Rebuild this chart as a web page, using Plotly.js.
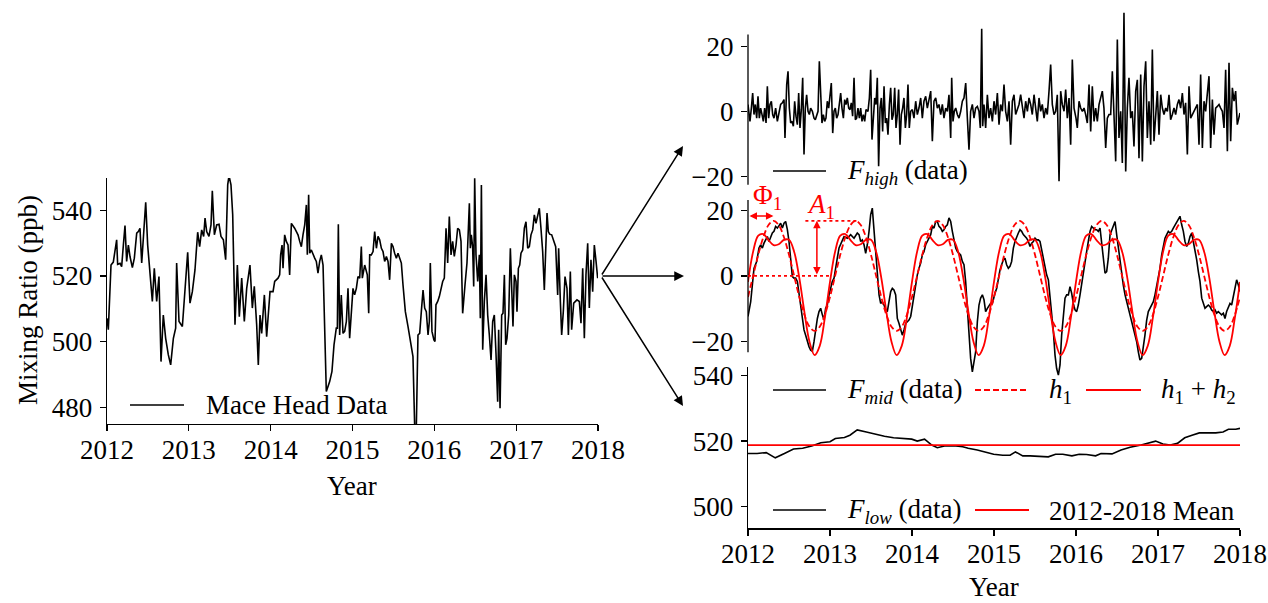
<!DOCTYPE html>
<html>
<head>
<meta charset="utf-8">
<script src="https://cdn.plot.ly/plotly-3.0.1.min.js"></script>
<style>html,body{margin:0;padding:0;background:#fff;}#chart{width:1268px;height:603px;}</style>
</head>
<body>
<div id="chart"></div>
<script>
// ---------------- DATA ----------------
const years = [2012, 2013, 2014, 2015, 2016, 2017, 2018];

// Mace Head record (ppb), [year, value]
const maceHead = [
[2012.000,507.1],[2012.016,503.6],[2012.049,523.3],[2012.077,524.2],[2012.118,531.0],[2012.130,523.5],[2012.159,523.8],[2012.179,522.8],[2012.200,529.4],[2012.220,535.3],[2012.240,524.4],[2012.261,529.4],[2012.281,525.9],[2012.310,522.5],[2012.334,525.4],[2012.363,533.0],[2012.383,533.5],[2012.403,534.5],[2012.424,523.9],[2012.444,532.5],[2012.473,542.4],[2012.497,529.4],[2012.525,520.3],[2012.554,512.2],[2012.578,522.3],[2012.607,512.2],[2012.635,519.8],[2012.660,493.9],[2012.688,508.1],[2012.717,501.0],[2012.749,496.0],[2012.778,492.9],[2012.811,501.0],[2012.839,504.1],[2012.851,523.9],[2012.880,506.1],[2012.921,504.6],[2012.953,515.2],[2012.986,527.2],[2013.014,511.7],[2013.043,515.2],[2013.075,521.8],[2013.108,533.3],[2013.132,528.9],[2013.157,534.0],[2013.181,532.0],[2013.198,537.6],[2013.218,533.5],[2013.246,532.0],[2013.271,535.5],[2013.287,545.9],[2013.312,532.5],[2013.340,535.5],[2013.369,535.7],[2013.393,532.0],[2013.422,531.0],[2013.450,524.9],[2013.475,547.7],[2013.491,550.5],[2013.515,547.7],[2013.536,538.6],[2013.564,505.1],[2013.593,523.3],[2013.617,507.6],[2013.646,519.3],[2013.678,506.1],[2013.707,516.2],[2013.747,523.3],[2013.776,510.2],[2013.800,516.8],[2013.829,505.1],[2013.849,492.9],[2013.870,508.1],[2013.890,502.5],[2013.923,514.2],[2013.951,501.5],[2013.992,515.2],
[2014.029,515.2],[2014.049,518.3],[2014.090,519.3],[2014.110,520.3],[2014.122,526.4],[2014.139,529.4],[2014.151,522.3],[2014.171,532.5],[2014.191,530.5],[2014.212,529.4],[2014.232,520.3],[2014.253,536.0],[2014.293,534.5],[2014.334,532.5],[2014.355,530.5],[2014.375,528.9],[2014.395,532.5],[2014.416,535.5],[2014.436,541.6],[2014.448,526.4],[2014.464,544.7],[2014.477,526.9],[2014.497,527.9],[2014.517,526.4],[2014.538,525.4],[2014.558,524.4],[2014.578,520.8],[2014.599,524.4],[2014.619,526.4],[2014.640,523.3],[2014.660,505.1],[2014.680,484.8],[2014.721,487.8],[2014.749,490.9],[2014.774,499.0],[2014.802,504.1],[2014.815,504.1],[2014.827,535.7],[2014.843,502.0],[2014.863,514.2],[2014.884,502.5],[2014.904,503.1],[2014.925,506.1],[2014.945,516.2],[2014.965,501.0],[2014.986,508.1],[2015.006,516.2],[2015.026,514.2],[2015.047,516.2],[2015.067,519.8],[2015.088,519.3],[2015.108,528.9],[2015.120,519.3],[2015.149,523.3],[2015.181,520.3],[2015.198,508.6],[2015.210,526.4],[2015.230,526.4],[2015.251,527.4],[2015.271,533.5],[2015.292,528.4],[2015.312,532.0],[2015.332,531.0],[2015.353,528.4],[2015.373,527.4],[2015.393,524.4],[2015.414,525.9],[2015.434,524.4],[2015.454,518.8],[2015.475,529.9],[2015.495,528.9],[2015.515,526.9],[2015.536,525.4],[2015.556,526.9],[2015.577,524.9],[2015.597,523.9],[2015.617,517.3],[2015.646,509.1],[2015.678,504.6],[2015.707,500.0],[2015.739,495.4],[2015.760,474.0],[2015.780,474.0],[2015.800,502.0],[2015.821,502.5],[2015.841,509.1],[2015.862,515.7],[2015.882,510.2],[2015.902,509.1],[2015.923,502.0],[2015.939,506.1],[2015.951,523.9],[2015.971,503.1],[2015.995,500.5],
[2016.008,500.0],[2016.020,511.2],[2016.041,512.2],[2016.061,513.7],[2016.081,516.2],[2016.102,518.3],[2016.122,519.3],[2016.143,534.5],[2016.163,523.9],[2016.183,538.1],[2016.204,526.4],[2016.224,530.5],[2016.244,525.9],[2016.265,529.4],[2016.285,534.5],[2016.306,534.0],[2016.326,530.5],[2016.346,508.6],[2016.375,517.3],[2016.399,523.9],[2016.416,534.5],[2016.428,542.1],[2016.440,528.4],[2016.452,532.5],[2016.468,528.9],[2016.481,516.8],[2016.493,549.7],[2016.509,526.4],[2016.530,518.3],[2016.550,526.4],[2016.562,507.1],[2016.575,547.7],[2016.591,497.5],[2016.611,512.2],[2016.632,520.3],[2016.652,508.1],[2016.672,502.0],[2016.693,494.4],[2016.713,506.1],[2016.733,508.1],[2016.754,496.0],[2016.774,481.7],[2016.786,503.6],[2016.803,479.7],[2016.823,508.1],[2016.839,508.6],[2016.856,520.3],[2016.872,499.0],[2016.888,501.0],[2016.909,508.1],[2016.929,528.4],[2016.945,514.2],[2016.961,504.6],[2016.978,520.3],[2016.998,518.3],[2017.010,509.1],[2017.027,522.3],[2017.043,523.3],[2017.059,526.9],[2017.080,527.9],[2017.100,534.5],[2017.120,536.5],[2017.141,528.4],[2017.161,528.9],[2017.181,532.5],[2017.202,534.0],[2017.222,538.6],[2017.242,536.0],[2017.263,538.1],[2017.283,540.6],[2017.303,534.5],[2017.324,527.4],[2017.344,515.7],[2017.365,529.9],[2017.377,539.1],[2017.393,533.5],[2017.409,532.7],[2017.434,532.5],[2017.458,530.5],[2017.483,528.9],[2017.507,514.2],[2017.519,528.4],[2017.540,512.2],[2017.556,502.0],[2017.576,509.1],[2017.597,519.8],[2017.621,516.2],[2017.638,502.0],[2017.662,521.3],[2017.678,503.6],[2017.703,511.7],[2017.719,512.2],[2017.743,512.7],[2017.772,512.2],[2017.792,505.6],[2017.813,522.3],[2017.833,501.0],[2017.853,520.3],[2017.874,529.9],[2017.894,510.2],[2017.914,524.9],[2017.935,515.2],[2017.955,529.4],[2017.976,524.4],[2017.996,519.3]
];

// High-frequency component
const fHigh = [
[2012.000,2.1],[2012.024,-3.1],[2012.041,1.0],[2012.057,5.6],[2012.073,-1.0],[2012.089,2.1],[2012.106,-2.1],[2012.122,4.6],[2012.138,-2.1],[2012.154,1.0],[2012.171,-1.0],[2012.187,-3.1],[2012.203,1.0],[2012.220,-3.6],[2012.236,7.7],[2012.252,-2.1],[2012.268,2.1],[2012.285,3.1],[2012.301,-1.0],[2012.317,-2.1],[2012.337,1.0],[2012.358,-3.1],[2012.378,-0.5],[2012.398,2.1],[2012.419,2.6],[2012.439,3.6],[2012.451,-8.2],[2012.472,8.2],[2012.488,12.3],[2012.504,1.0],[2012.520,-3.6],[2012.537,-3.1],[2012.553,-4.6],[2012.569,3.1],[2012.585,-1.5],[2012.602,-4.1],[2012.618,5.6],[2012.634,-5.1],[2012.650,0.5],[2012.667,10.3],[2012.683,-13.3],[2012.699,1.0],[2012.715,5.1],[2012.732,0.0],[2012.748,-1.0],[2012.764,1.0],[2012.785,0.0],[2012.805,-2.1],[2012.821,-2.6],[2012.837,-1.0],[2012.854,0.0],[2012.870,15.4],[2012.886,2.1],[2012.902,-3.6],[2012.919,-1.0],[2012.935,-3.1],[2012.951,-2.1],[2012.967,3.1],[2012.984,1.0],[2013.000,5.1],[2013.016,8.7],[2013.033,-6.7],[2013.049,0.0],[2013.065,1.0],[2013.081,-2.1],[2013.098,-1.0],[2013.114,2.1],[2013.130,5.6],[2013.146,1.0],[2013.163,-2.1],[2013.179,3.6],[2013.195,2.1],[2013.211,4.1],[2013.228,1.0],[2013.244,0.5],[2013.260,2.6],[2013.276,-1.5],[2013.293,10.3],[2013.309,-2.6],[2013.325,-2.1],[2013.341,1.0],[2013.358,-2.1],[2013.374,1.0],[2013.390,-3.1],[2013.407,-1.0],[2013.423,-3.1],[2013.439,0.5],[2013.463,0.0],[2013.480,4.1],[2013.496,12.8],[2013.512,-8.7],[2013.528,-1.0],[2013.545,4.1],[2013.561,2.1],[2013.577,10.3],[2013.593,-16.9],[2013.610,1.0],[2013.626,4.1],[2013.642,-6.2],[2013.659,7.7],[2013.675,-3.6],[2013.691,-2.1],[2013.707,-7.2],[2013.724,2.1],[2013.740,7.2],[2013.756,-2.6],[2013.772,-1.0],[2013.789,7.2],[2013.805,-5.1],[2013.821,-1.0],[2013.837,6.7],[2013.854,-10.3],[2013.870,-1.0],[2013.886,1.0],[2013.902,4.1],[2013.919,-5.1],[2013.935,-1.0],[2013.951,8.2],[2013.967,-5.1],[2013.984,0.0],[2014.004,0.5],
[2014.024,-2.1],[2014.045,3.1],[2014.065,-1.0],[2014.085,1.0],[2014.106,4.1],[2014.126,-2.1],[2014.146,3.1],[2014.167,4.6],[2014.187,1.0],[2014.207,3.1],[2014.228,6.2],[2014.248,-9.2],[2014.268,3.1],[2014.289,4.1],[2014.309,1.0],[2014.329,2.1],[2014.350,-1.0],[2014.370,2.1],[2014.390,-2.1],[2014.411,1.0],[2014.431,0.0],[2014.451,5.1],[2014.472,-8.2],[2014.484,10.3],[2014.500,-3.1],[2014.516,0.0],[2014.533,1.0],[2014.553,-1.0],[2014.573,-2.1],[2014.594,0.0],[2014.614,3.1],[2014.634,4.1],[2014.655,8.7],[2014.675,-2.1],[2014.695,-11.8],[2014.715,0.0],[2014.736,2.1],[2014.756,-2.1],[2014.776,1.0],[2014.797,1.5],[2014.817,0.0],[2014.833,-5.1],[2014.850,25.4],[2014.862,-4.6],[2014.878,2.1],[2014.898,-5.1],[2014.919,5.1],[2014.939,-2.1],[2014.959,1.0],[2014.980,-3.1],[2015.000,3.1],[2015.020,-1.0],[2015.041,5.6],[2015.061,-4.1],[2015.081,2.1],[2015.102,0.0],[2015.122,8.2],[2015.142,0.0],[2015.163,-3.1],[2015.183,3.1],[2015.203,-10.3],[2015.224,3.1],[2015.244,5.1],[2015.264,-1.0],[2015.285,1.0],[2015.305,2.1],[2015.325,5.1],[2015.346,1.0],[2015.366,-2.1],[2015.386,3.1],[2015.407,0.0],[2015.427,4.1],[2015.447,2.1],[2015.467,-1.0],[2015.488,5.1],[2015.508,1.0],[2015.528,-3.1],[2015.549,4.1],[2015.569,0.0],[2015.589,2.1],[2015.610,-2.1],[2015.630,1.0],[2015.650,-1.0],[2015.671,6.2],[2015.691,14.4],[2015.711,2.1],[2015.732,-1.0],[2015.752,0.0],[2015.772,5.1],[2015.793,-21.5],[2015.813,6.2],[2015.833,2.1],[2015.854,0.0],[2015.874,6.7],[2015.894,-2.1],[2015.915,4.1],[2015.935,-10.3],[2015.955,15.9],[2015.976,1.0],[2016.000,-2.1],
[2016.016,-5.1],[2016.037,3.1],[2016.057,1.0],[2016.078,0.0],[2016.098,1.0],[2016.118,-1.0],[2016.138,-3.6],[2016.159,8.2],[2016.179,-6.2],[2016.199,7.7],[2016.220,-3.1],[2016.240,1.0],[2016.260,-3.1],[2016.281,2.1],[2016.301,4.1],[2016.321,6.2],[2016.341,1.0],[2016.362,-11.3],[2016.382,-2.1],[2016.402,-1.0],[2016.423,-1.0],[2016.443,12.3],[2016.463,-1.0],[2016.484,-15.4],[2016.504,22.1],[2016.524,-8.2],[2016.545,0.0],[2016.565,-15.9],[2016.585,30.3],[2016.606,-18.5],[2016.626,1.0],[2016.646,10.3],[2016.667,-2.1],[2016.687,0.0],[2016.707,-10.8],[2016.728,6.2],[2016.748,9.7],[2016.768,-14.4],[2016.789,11.3],[2016.809,-15.4],[2016.829,7.7],[2016.850,15.4],[2016.870,-8.2],[2016.890,3.1],[2016.911,-10.3],[2016.931,19.0],[2016.951,-9.2],[2016.972,-1.0],[2016.992,6.2],[2017.012,-7.2],[2017.033,5.1],[2017.053,1.0],[2017.073,-1.0],[2017.094,1.0],[2017.114,0.0],[2017.134,5.1],[2017.154,-2.6],[2017.175,-1.0],[2017.195,1.0],[2017.215,-1.0],[2017.236,2.1],[2017.256,3.6],[2017.276,1.0],[2017.297,5.6],[2017.317,-1.0],[2017.337,2.6],[2017.358,-13.3],[2017.378,7.7],[2017.398,-2.1],[2017.419,-1.0],[2017.439,0.0],[2017.459,1.0],[2017.480,2.1],[2017.500,-10.3],[2017.520,11.3],[2017.541,-11.3],[2017.561,3.1],[2017.581,0.0],[2017.602,6.2],[2017.622,10.8],[2017.642,-11.3],[2017.663,3.6],[2017.683,-7.2],[2017.703,1.0],[2017.724,1.5],[2017.744,2.1],[2017.764,1.0],[2017.785,0.0],[2017.805,-5.1],[2017.825,12.8],[2017.846,-12.3],[2017.866,14.9],[2017.886,-9.2],[2017.907,7.2],[2017.927,3.1],[2017.947,6.2],[2017.967,-4.1],[2017.988,-1.0],[2018.000,-0.5]
];

// Mid-frequency (seasonal) component
const fMid = [
[2012.000,-12.4],[2012.033,-7.9],[2012.053,-2.8],[2012.073,2.3],[2012.106,4.4],[2012.134,8.5],[2012.154,9.5],[2012.175,8.5],[2012.195,10.0],[2012.215,11.0],[2012.236,12.0],[2012.256,10.5],[2012.276,12.0],[2012.297,13.1],[2012.317,13.6],[2012.337,15.1],[2012.358,14.6],[2012.378,15.6],[2012.398,16.1],[2012.419,14.6],[2012.439,16.1],[2012.459,16.6],[2012.480,14.1],[2012.500,10.5],[2012.520,4.4],[2012.541,-0.2],[2012.561,-0.7],[2012.581,-0.7],[2012.602,-1.7],[2012.622,-5.8],[2012.642,-9.9],[2012.663,-14.0],[2012.683,-16.5],[2012.703,-18.1],[2012.724,-20.1],[2012.744,-21.6],[2012.764,-22.7],[2012.785,-23.0],[2012.805,-20.1],[2012.825,-16.0],[2012.846,-13.0],[2012.866,-10.9],[2012.886,-9.9],[2012.907,-11.9],[2012.927,-13.5],[2012.947,-9.9],[2012.967,-8.9],[2012.988,-5.8],[2013.008,-3.3],[2013.028,-1.7],[2013.049,-0.7],[2013.069,1.8],[2013.089,5.4],[2013.110,8.5],[2013.130,9.5],[2013.150,10.5],[2013.171,12.0],[2013.211,11.5],[2013.252,12.6],[2013.293,11.5],[2013.333,13.1],[2013.354,12.6],[2013.374,10.5],[2013.394,11.0],[2013.415,9.5],[2013.435,6.9],[2013.455,9.5],[2013.476,13.6],[2013.496,18.7],[2013.516,20.7],[2013.537,13.6],[2013.557,7.4],[2013.577,0.8],[2013.598,-5.8],[2013.618,-8.4],[2013.638,-7.9],[2013.659,-8.9],[2013.679,-10.4],[2013.699,-10.9],[2013.740,-4.8],[2013.760,-3.8],[2013.780,-4.3],[2013.801,-5.8],[2013.821,-13.0],[2013.841,-14.5],[2013.862,-16.0],[2013.882,-18.1],[2013.902,-16.5],[2013.923,-14.5],[2013.943,-14.0],[2013.963,-13.5],[2013.984,-12.4],[2014.004,-8.9],[2014.024,-5.3],[2014.045,-2.8],[2014.065,0.3],[2014.085,2.3],[2014.106,3.9],[2014.126,6.4],[2014.146,7.4],[2014.167,9.5],[2014.187,10.5],[2014.228,12.6],[2014.248,15.1],[2014.268,14.6],[2014.289,16.6],[2014.309,16.6],[2014.329,15.1],[2014.350,14.6],[2014.370,13.6],[2014.390,14.1],[2014.411,15.1],[2014.431,15.6],[2014.451,17.7],[2014.472,16.6],[2014.492,13.6],[2014.512,10.5],[2014.533,8.5],[2014.553,7.4],[2014.573,6.9],[2014.593,6.4],[2014.614,4.4],[2014.634,3.4],[2014.654,-1.7],[2014.675,-9.9],[2014.695,-18.1],[2014.715,-25.2],[2014.736,-29.3],[2014.756,-26.2],[2014.776,-23.2],[2014.797,-14.0],[2014.817,-8.9],[2014.837,-6.8],[2014.858,-5.8],[2014.878,-7.3],[2014.898,-10.9],[2014.919,-9.9],[2014.939,-8.9],[2014.959,-8.4],[2014.980,-8.4],
[2014.992,-6.8],[2015.012,-5.3],[2015.033,-3.8],[2015.053,-0.7],[2015.073,1.8],[2015.093,3.4],[2015.114,4.9],[2015.134,5.4],[2015.154,3.4],[2015.175,2.3],[2015.195,2.9],[2015.215,4.4],[2015.236,8.5],[2015.256,10.5],[2015.276,12.0],[2015.297,13.1],[2015.317,14.1],[2015.337,13.6],[2015.358,12.6],[2015.378,12.0],[2015.398,11.5],[2015.419,10.5],[2015.439,9.0],[2015.459,10.0],[2015.480,10.5],[2015.500,11.5],[2015.520,11.0],[2015.541,11.0],[2015.561,10.5],[2015.581,8.0],[2015.602,4.9],[2015.622,2.3],[2015.642,0.3],[2015.663,-1.2],[2015.683,-5.8],[2015.703,-10.9],[2015.724,-17.0],[2015.744,-24.2],[2015.764,-28.3],[2015.785,-30.3],[2015.805,-27.2],[2015.825,-18.1],[2015.846,-10.9],[2015.866,-6.8],[2015.886,-5.8],[2015.907,-5.8],[2015.927,-3.3],[2015.947,-5.3],[2015.967,-8.4],[2015.988,-10.4],[2016.008,-10.9],[2016.028,-8.9],[2016.049,-5.8],[2016.069,-2.2],[2016.089,1.3],[2016.110,4.4],[2016.130,7.4],[2016.150,10.5],[2016.171,13.6],[2016.191,15.1],[2016.211,14.6],[2016.232,14.1],[2016.252,14.1],[2016.272,13.6],[2016.293,14.6],[2016.313,9.5],[2016.333,4.4],[2016.354,0.8],[2016.374,1.3],[2016.394,5.4],[2016.415,12.6],[2016.435,14.1],[2016.455,15.6],[2016.476,16.6],[2016.496,12.6],[2016.516,8.5],[2016.537,4.4],[2016.557,0.3],[2016.577,-2.8],[2016.598,-5.8],[2016.618,-7.9],[2016.638,-9.9],[2016.659,-11.9],[2016.679,-14.0],[2016.699,-16.0],[2016.720,-18.1],[2016.740,-20.1],[2016.760,-23.2],[2016.780,-25.7],[2016.801,-25.2],[2016.821,-22.1],[2016.841,-18.1],[2016.862,-13.5],[2016.882,-10.9],[2016.902,-9.9],[2016.923,-8.9],[2016.943,-7.9],[2016.963,-5.8],[2016.984,-3.3],[2017.004,-0.7],[2017.024,2.3],[2017.045,6.4],[2017.065,9.5],[2017.085,11.5],[2017.106,12.6],[2017.126,13.6],[2017.146,13.1],[2017.167,13.6],[2017.187,14.6],[2017.207,15.6],[2017.228,16.6],[2017.248,17.7],[2017.268,18.2],[2017.289,15.6],[2017.309,13.6],[2017.329,10.5],[2017.350,9.0],[2017.370,10.0],[2017.390,12.0],[2017.411,13.1],[2017.431,10.5],[2017.451,7.4],[2017.472,4.9],[2017.492,1.3],[2017.512,-1.7],[2017.533,-6.8],[2017.553,-8.4],[2017.573,-9.9],[2017.593,-9.4],[2017.614,-8.9],[2017.634,-9.4],[2017.654,-10.4],[2017.675,-10.9],[2017.695,-10.4],[2017.715,-11.4],[2017.736,-10.9],[2017.756,-11.4],[2017.776,-11.9],[2017.797,-11.4],[2017.817,-13.0],[2017.837,-10.9],[2017.858,-9.4],[2017.878,-8.4],[2017.898,-8.9],[2017.919,-5.8],[2017.939,-3.8],[2017.959,-1.2],[2017.980,-2.8],[2018.000,-4.8]
];

// Fitted harmonics sampled every 1/16 year
const harmT = [
2012,2012.0625,2012.125,2012.1875,2012.25,2012.3125,2012.375,2012.4375,2012.5,2012.5625,2012.625,2012.6875,2012.75,2012.8125,2012.875,2012.9375,
2013,2013.0625,2013.125,2013.1875,2013.25,2013.3125,2013.375,2013.4375,2013.5,2013.5625,2013.625,2013.6875,2013.75,2013.8125,2013.875,2013.9375,
2014,2014.0625,2014.125,2014.1875,2014.25,2014.3125,2014.375,2014.4375,2014.5,2014.5625,2014.625,2014.6875,2014.75,2014.8125,2014.875,2014.9375,
2015,2015.0625,2015.125,2015.1875,2015.25,2015.3125,2015.375,2015.4375,2015.5,2015.5625,2015.625,2015.6875,2015.75,2015.8125,2015.875,2015.9375,
2016,2016.0625,2016.125,2016.1875,2016.25,2016.3125,2016.375,2016.4375,2016.5,2016.5625,2016.625,2016.6875,2016.75,2016.8125,2016.875,2016.9375,
2017,2017.0625,2017.125,2017.1875,2017.25,2017.3125,2017.375,2017.4375,2017.5,2017.5625,2017.625,2017.6875,2017.75,2017.8125,2017.875,2017.9375,
2018];
const h1Vals = [
-6.43,0,6.43,11.88,15.52,16.8,15.52,11.88,6.43,0,-6.43,-11.88,-15.52,-16.8,-15.52,-11.88,
-6.43,0,6.43,11.88,15.52,16.8,15.52,11.88,6.43,0,-6.43,-11.88,-15.52,-16.8,-15.52,-11.88,
-6.43,0,6.43,11.88,15.52,16.8,15.52,11.88,6.43,0,-6.43,-11.88,-15.52,-16.8,-15.52,-11.88,
-6.43,0,6.43,11.88,15.52,16.8,15.52,11.88,6.43,0,-6.43,-11.88,-15.52,-16.8,-15.52,-11.88,
-6.43,0,6.43,11.88,15.52,16.8,15.52,11.88,6.43,0,-6.43,-11.88,-15.52,-16.8,-15.52,-11.88,
-6.43,0,6.43,11.88,15.52,16.8,15.52,11.88,6.43,0,-6.43,-11.88,-15.52,-16.8,-15.52,-11.88,
-6.43];
const h12Vals = [
-1.84,7.4,12.3,12.78,10.93,9.4,9.65,10.98,11.02,7.4,-0.56,-10.98,-20.11,-24.2,-21.39,-12.78,
-1.84,7.4,12.3,12.78,10.93,9.4,9.65,10.98,11.02,7.4,-0.56,-10.98,-20.11,-24.2,-21.39,-12.78,
-1.84,7.4,12.3,12.78,10.93,9.4,9.65,10.98,11.02,7.4,-0.56,-10.98,-20.11,-24.2,-21.39,-12.78,
-1.84,7.4,12.3,12.78,10.93,9.4,9.65,10.98,11.02,7.4,-0.56,-10.98,-20.11,-24.2,-21.39,-12.78,
-1.84,7.4,12.3,12.78,10.93,9.4,9.65,10.98,11.02,7.4,-0.56,-10.98,-20.11,-24.2,-21.39,-12.78,
-1.84,7.4,12.3,12.78,10.93,9.4,9.65,10.98,11.02,7.4,-0.56,-10.98,-20.11,-24.2,-21.39,-12.78,
-1.84];

// Low-frequency (trend) component
const fLow = [
[2012.000,516.2],[2012.111,516.2],[2012.222,516.5],[2012.333,514.9],[2012.444,516.2],[2012.555,517.6],[2012.666,517.8],[2012.777,518.5],[2012.888,519.5],[2013.000,519.8],[2013.065,520.8],[2013.176,521.1],[2013.243,521.8],[2013.332,523.4],[2013.443,522.8],[2013.553,522.1],[2013.664,521.5],[2013.775,521.0],[2013.886,520.7],[2013.997,520.6],[2014.064,520.0],[2014.153,520.6],[2014.241,518.8],[2014.308,518.0],[2014.397,518.5],[2014.508,518.6],[2014.619,518.3],[2014.685,517.8],[2014.796,517.3],[2014.885,516.7],[2014.996,516.0],[2015.107,515.7],[2015.196,515.7],[2015.262,516.7],[2015.351,515.5],[2015.440,515.5],[2015.551,515.4],[2015.662,515.2],[2015.751,516.0],[2015.839,516.0],[2015.950,515.5],[2016.039,516.0],[2016.128,515.9],[2016.239,515.5],[2016.305,516.2],[2016.439,516.1],[2016.549,517.3],[2016.660,518.1],[2016.794,518.8],[2016.905,519.5],[2016.971,520.0],[2017.060,519.1],[2017.149,518.8],[2017.237,519.3],[2017.326,521.0],[2017.415,521.8],[2017.504,522.5],[2017.593,522.5],[2017.704,522.5],[2017.793,522.8],[2017.859,523.6],[2017.948,523.6],[2018.000,523.9]
];
const meanPeriod = [2012, 2018];
const meanValue = 518.8;

// Annotation values (phase / amplitude of h1)
const phi1 = 2012.31;      // time of first h1 maximum
const amp1 = 16.8;         // amplitude of h1
const ampMarkT = 2012.84;  // where the A1 arrow is drawn
const phiArrowY = 18.3;

// Legend labels
const labMace = 'Mace Head Data';
const labHigh = '<i>F</i><sub><i>high</i></sub> (data)';
const labMid  = '<i>F</i><sub><i>mid</i></sub> (data)';
const labH1   = '<i>h</i><sub>1</sub>';
const labH12  = '<i>h</i><sub>1</sub> + <i>h</i><sub>2</sub>';
const labLow  = '<i>F</i><sub><i>low</i></sub> (data)';
const labMean = '2012-2018 Mean';

// ---------------- PLOT ----------------
const W = 1268, H = 603;
const px = v => v / W;
const py = v => 1 - v / H;
const FONTFAM = 'Liberation Serif, Times New Roman, serif';
const FS = 27;
const BLACK = '#000000', RED = '#ff0000';
const col = (arr, i) => arr.map(r => r[i]);
const LWK = 1.6, LWR = 1.8;

const traces = [
  {x: col(maceHead,0), y: col(maceHead,1), xaxis:'x', yaxis:'y', mode:'lines', name:labMace, line:{color:BLACK, width:LWK}},
  {x: col(fHigh,0), y: col(fHigh,1), xaxis:'x2', yaxis:'y2', mode:'lines', name:labHigh, line:{color:BLACK, width:LWK}},
  {x: col(fMid,0), y: col(fMid,1), xaxis:'x2', yaxis:'y3', mode:'lines', name:labMid, line:{color:BLACK, width:LWK}},
  {x: harmT, y: h1Vals, xaxis:'x2', yaxis:'y3', mode:'lines', name:labH1,
   line:{color:RED, width:LWR, dash:'6px,3px', shape:'spline', smoothing:1}},
  {x: harmT, y: h12Vals, xaxis:'x2', yaxis:'y3', mode:'lines', name:labH12,
   line:{color:RED, width:LWR, shape:'spline', smoothing:1}},
  {x: col(fLow,0), y: col(fLow,1), xaxis:'x2', yaxis:'y4', mode:'lines', name:labLow, line:{color:BLACK, width:LWK}},
  {x: meanPeriod, y: meanPeriod.map(() => meanValue), xaxis:'x2', yaxis:'y4', mode:'lines', name:labMean, line:{color:RED, width:LWR}}
];

const axBase = {
  showgrid:false, zeroline:false, ticks:'outside', ticklen:6, tickwidth:1.3, tickcolor:BLACK,
  linecolor:BLACK, linewidth:1.3, tickfont:{family:FONTFAM, size:FS, color:BLACK}, fixedrange:true
};
const xAx = {ticklabelstandoff:-5};
const yAx = {ticklabelstandoff:2};

// manual legend keys: [x0, x1, y, color, dash] in pixels of the figure
const legendKeys = [
  [130, 184, 405, BLACK, 'solid', LWK],
  [773, 826, 171, BLACK, 'solid', LWK],
  [773, 826, 390, BLACK, 'solid', LWK],
  [975, 1029, 390, RED, '6px,3px', LWR],
  [1086, 1141, 390, RED, 'solid', LWR],
  [773, 826, 510, BLACK, 'solid', LWK],
  [975, 1029, 510, RED, 'solid', LWR]
];
const legendTexts = [
  [205, 405, labMace], [846, 172, labHigh], [846, 391, labMid], [1048, 391, labH1],
  [1160, 391, labH12], [846, 511, labLow], [1048, 511, labMean]
];

const shapes = [
  {type:'line', xref:'paper', yref:'y2', x0:px(748), x1:px(748), y0:-22.6, y1:23.6, line:{color:BLACK, width:1.3}},
  {type:'line', xref:'paper', yref:'y3', x0:px(748), x1:px(748), y0:-23.3, y1:23.2, line:{color:BLACK, width:1.3}},
  {type:'line', xref:'x2', yref:'y3', x0:2012.0, x1:2012.99, y0:0, y1:0, line:{color:RED, width:1.6, dash:'dot'}},
  {type:'line', xref:'x2', yref:'y3', x0:2012.70, x1:phi1 + 1.02, y0:amp1, y1:amp1, line:{color:RED, width:1.6, dash:'dot'}}
].concat(legendKeys.map(k => ({type:'line', xref:'paper', yref:'paper', x0:px(k[0]), x1:px(k[1]), y0:py(k[2]), y1:py(k[2]),
  line:{color:k[3], width:k[5], dash:k[4]}})));

const annotations = [
  {xref:'paper', yref:'paper', x:px(28), y:py(300), text:'Mixing Ratio (ppb)', textangle:-90, showarrow:false,
   font:{family:FONTFAM, size:FS, color:BLACK}, xanchor:'center', yanchor:'middle'},
  {xref:'paper', yref:'paper', x:px(352), y:py(486), text:'Year', showarrow:false,
   font:{family:FONTFAM, size:FS, color:BLACK}, xanchor:'center', yanchor:'middle'},
  {xref:'paper', yref:'paper', x:px(994), y:py(587), text:'Year', showarrow:false,
   font:{family:FONTFAM, size:FS, color:BLACK}, xanchor:'center', yanchor:'middle'},
  // big arrows
  {xref:'paper', yref:'paper', axref:'paper', ayref:'paper', x:px(683), y:py(146), ax:px(601), ay:py(276),
   text:'', showarrow:true, arrowhead:2, arrowsize:1.3, arrowwidth:1.5, arrowcolor:BLACK, standoff:0},
  {xref:'paper', yref:'paper', axref:'paper', ayref:'paper', x:px(684), y:py(276), ax:px(601), ay:py(276),
   text:'', showarrow:true, arrowhead:2, arrowsize:1.3, arrowwidth:1.5, arrowcolor:BLACK, standoff:0},
  {xref:'paper', yref:'paper', axref:'paper', ayref:'paper', x:px(683), y:py(406), ax:px(601), ay:py(276),
   text:'', showarrow:true, arrowhead:2, arrowsize:1.3, arrowwidth:1.5, arrowcolor:BLACK, standoff:0},
  // phase arrow
  {xref:'x2', yref:'y3', axref:'x2', ayref:'y3', x:phi1, y:phiArrowY, ax:2012.0, ay:phiArrowY,
   text:'', showarrow:true, arrowside:'end+start', arrowhead:2, arrowsize:1, arrowwidth:1.5, arrowcolor:RED, standoff:0, startstandoff:0},
  // amplitude arrow
  {xref:'x2', yref:'y3', axref:'x2', ayref:'y3', x:ampMarkT, y:amp1, ax:ampMarkT, ay:0,
   text:'', showarrow:true, arrowside:'end+start', arrowhead:2, arrowsize:1, arrowwidth:1.5, arrowcolor:RED, standoff:0, startstandoff:0},
  {xref:'paper', yref:'paper', x:px(767), y:py(197), text:'Φ<sub>1</sub>', showarrow:false,
   font:{family:FONTFAM, size:FS, color:RED}, xanchor:'center', yanchor:'middle'},
  {xref:'paper', yref:'paper', x:px(821), y:py(206), text:'<i>A</i><sub>1</sub>', showarrow:false,
   font:{family:FONTFAM, size:FS, color:RED}, xanchor:'center', yanchor:'middle'}
].concat(legendTexts.map(t => ({xref:'paper', yref:'paper', x:px(t[0]), y:py(t[1]), text:t[2], showarrow:false,
   font:{family:FONTFAM, size:FS, color:BLACK}, xanchor:'left', yanchor:'middle', borderpad:0})));

const layout = {
  width:W, height:H, margin:{l:0, r:0, t:0, b:0}, paper_bgcolor:'#fff', plot_bgcolor:'rgba(0,0,0,0)',
  font:{family:FONTFAM, size:FS, color:BLACK}, showlegend:false, hovermode:false,
  xaxis: Object.assign({}, axBase, xAx, {domain:[px(107), px(598)], range:[2012,2018], anchor:'y', tickvals:years, showline:true}),
  yaxis: Object.assign({}, axBase, yAx, {domain:[py(424), py(178)], range:[474.9,549.8], anchor:'x', tickvals:[480,500,520,540], showline:true}),
  xaxis2: Object.assign({}, axBase, xAx, {domain:[px(748), px(1240)], range:[2012,2018], anchor:'y4', tickvals:years, showline:true}),
  yaxis2: Object.assign({}, axBase, yAx, {domain:[py(195), py(5)], range:[-25.75,32.7], anchor:'x2', tickvals:[-20,0,20], showline:false}),
  yaxis3: Object.assign({}, axBase, yAx, {domain:[py(380), py(195)], range:[-31.8,24.7], anchor:'x2', tickvals:[-20,0,20], showline:false}),
  yaxis4: Object.assign({}, axBase, yAx, {domain:[py(528.3), py(366.7)], range:[493.4,542.7], anchor:'x2', tickvals:[500,520,540], showline:true}),
  shapes: shapes,
  annotations: annotations
};

Plotly.newPlot('chart', traces, layout, {staticPlot:true, displayModeBar:false});
</script>
</body>
</html>
